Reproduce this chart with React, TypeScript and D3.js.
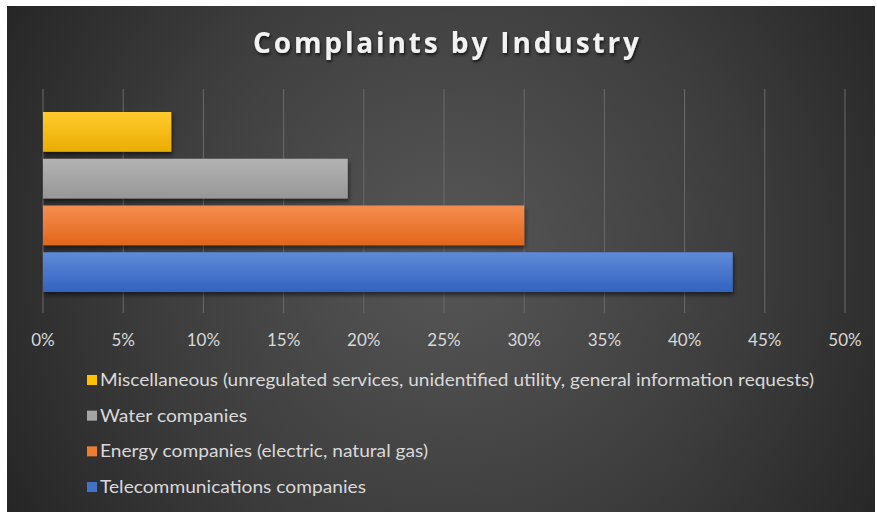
import React from "react";
import * as d3 from "d3";

const seriesNames = [
  "Telecommunications companies",
  "Energy companies (electric, natural gas)",
  "Water companies",
  "Miscellaneous (unregulated services, unidentified utility, general information requests)",
];
const seriesValues = [43, 30, 19, 8];
const seriesTop = ["#5f8ad8", "#f58d4f", "#b3b3b3", "#ffcb2e"];
const seriesBottom = ["#3363c2", "#e2661a", "#979797", "#e9ad00"];
const legendColors = ["#4472c4", "#ed7d31", "#a5a5a5", "#ffc000"];
const tickValues = [0, 5, 10, 15, 20, 25, 30, 35, 40, 45, 50];

export default function App() {
  const W = 877, H = 512;
  const x = d3.scaleLinear().domain([0, 50]).range([43, 845]);
  const plotTop = 89, plotBottom = 313;
  // single category with 4 series; bottom series first
  const y = d3
    .scaleBand<number>()
    .domain([3, 2, 1, 0])
    .range([112, 292])
    .paddingInner(7 / 47)
    .paddingOuter(0);
  const legendOrder = [3, 2, 1, 0];
  const legendWidths = [714, 147, 328, 266]; // by legend row
  const legendY = d3.scaleLinear().domain([0, 3]).range([386, 493]);

  return (
    <svg
      width={W}
      height={H}
      style={{ position: "absolute", left: 0, top: 0, display: "block" }}
    >
      <defs>
        <radialGradient id="bg" gradientUnits="userSpaceOnUse" cx={450} cy={250} r={520}>
          <stop offset="0" stopColor="#575757" />
          <stop offset="0.55" stopColor="#3e3e3e" />
          <stop offset="1" stopColor="#252525" />
        </radialGradient>
        {seriesValues.map((_, i) => (
          <linearGradient key={i} id={`g${i}`} x1="0" y1="0" x2="0" y2="1">
            <stop offset="0" stopColor={seriesTop[i]} />
            <stop offset="1" stopColor={seriesBottom[i]} />
          </linearGradient>
        ))}
        <filter id="shadow" x="-10%" y="-30%" width="120%" height="170%">
          <feDropShadow dx="1" dy="3" stdDeviation="2" floodColor="#000" floodOpacity="0.55" />
        </filter>
        <filter id="tshadow" x="-10%" y="-30%" width="120%" height="170%">
          <feDropShadow dx="1" dy="2" stdDeviation="1.5" floodColor="#000" floodOpacity="0.7" />
        </filter>
      </defs>
      <rect x={0} y={0} width={W} height={H} fill="#ffffff" />
      <rect x={7} y={6} width={868} height={H - 6} fill="url(#bg)" />

      <text
        x={446}
        y={53}
        textAnchor="middle"
        fontFamily="'Open Sans', Lato, sans-serif"
        fontWeight={700}
        fontSize={28}
        fill="#f2f2f2"
        textLength={386}
        lengthAdjust="spacing"
        filter="url(#tshadow)"
      >
        Complaints by Industry
      </text>

      {tickValues.map((t) => (
        <line
          key={t}
          x1={x(t)}
          x2={x(t)}
          y1={plotTop}
          y2={plotBottom}
          stroke="#6a6a6a"
          strokeWidth={1}
        />
      ))}

      {seriesValues.map((v, i) => (
        <rect
          key={i}
          x={x(0)}
          y={y(i)}
          width={x(v) - x(0)}
          height={y.bandwidth()}
          fill={`url(#g${i})`}
          filter="url(#shadow)"
        />
      ))}

      {tickValues.map((t) => (
        <text
          key={t}
          x={x(t)}
          y={346}
          textAnchor="middle"
          fontFamily="Lato, 'Open Sans', sans-serif"
          fontSize={17}
          fill="#d9d9d9"
        >
          {t}%
        </text>
      ))}

      {legendOrder.map((si, k) => (
        <g key={si}>
          <rect x={87} y={legendY(k) - 11} width={10} height={10} fill={legendColors[si]} />
          <text
            x={100}
            y={legendY(k)}
            fontFamily="Lato, 'Open Sans', sans-serif"
            fontSize={18}
            fill="#d9d9d9"
            textLength={legendWidths[k]}
            lengthAdjust="spacingAndGlyphs"
          >
            {seriesNames[si]}
          </text>
        </g>
      ))}
    </svg>
  );
}
